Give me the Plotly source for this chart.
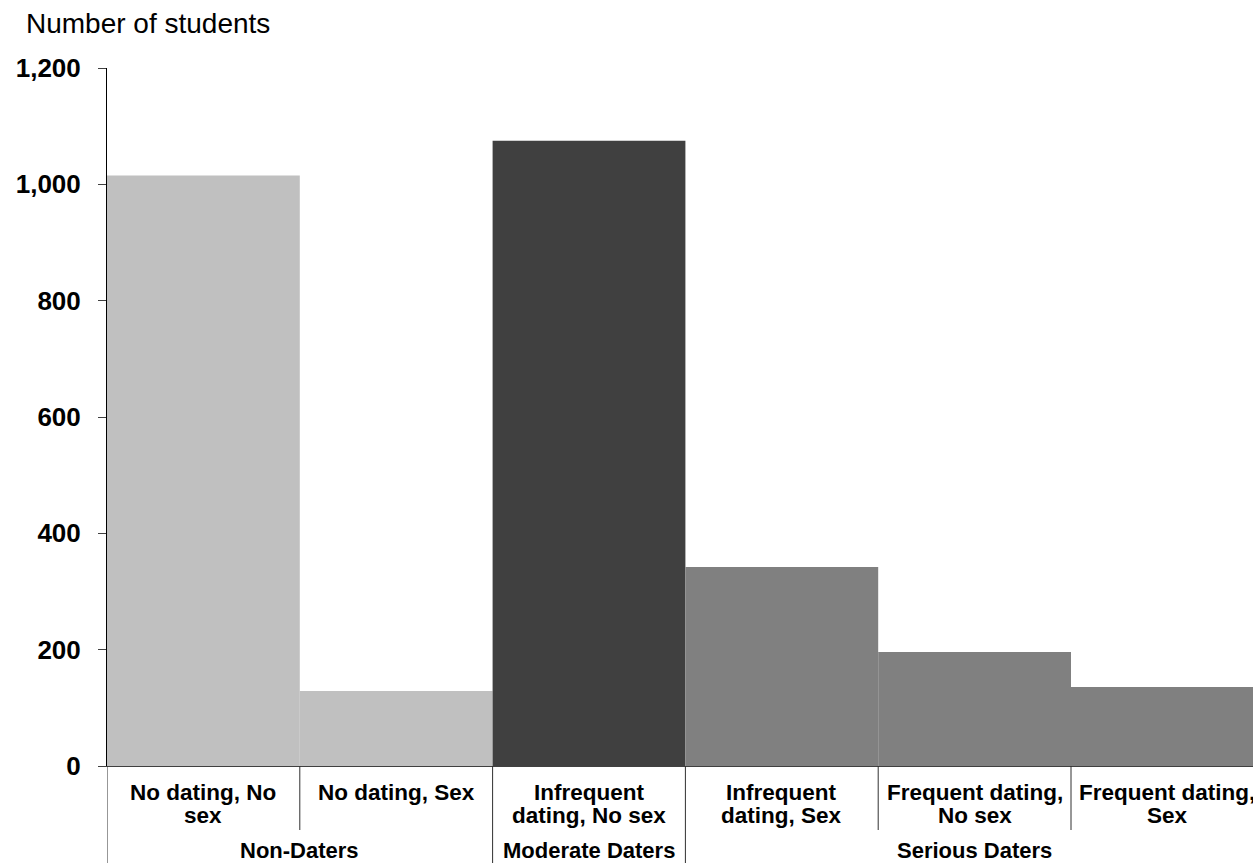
import plotly.graph_objects as go

# Number of students per dating/sex category
categories = [
    "No dating, No<br>sex",
    "No dating, Sex",
    "Infrequent<br>dating, No sex",
    "Infrequent<br>dating, Sex",
    "Frequent dating,<br>No sex",
    "Frequent dating,<br>Sex",
]
students = [1015, 129, 1075, 342, 196, 136]
groups = ["Non-Daters", "Moderate Daters", "Serious Daters"]
group_index = [0, 0, 1, 2, 2, 2]
group_colors = ["#C0C0C0", "#404040", "#808080"]
y_ticks = [0, 200, 400, 600, 800, 1000, 1200]

FONT = "Liberation Sans, Arial, sans-serif"
W, H = 1253, 863
M_L, M_T, M_B = 107, 68, 97
PLOT_H = H - M_T - M_B
PLOT_W = W - M_L
BAR_PX = 192.8


def py(pix):
    """Convert a pixel row of the page into paper y coordinates."""
    return (H - M_B - pix) / PLOT_H


def px(pix):
    """Convert a pixel column of the page into paper x coordinates."""
    return (pix - M_L) / PLOT_W


x = list(range(len(categories)))
fig = go.Figure(
    go.Bar(
        x=x,
        y=students,
        width=1,
        marker=dict(color=[group_colors[g] for g in group_index], line=dict(width=0)),
        hoverinfo="skip",
    )
)

shapes = []
annotations = []

# Category labels under each bar, one annotation per text line
for i, label in enumerate(categories):
    for j, line in enumerate(label.split("<br>")):
        annotations.append(dict(
            x=i, xref="x", y=py(792 + 23 * j), yref="paper",
            text=f"<b>{line}</b>", showarrow=False,
            xanchor="center", yanchor="middle",
            font=dict(family=FONT, size=22.5, color="black"),
        ))

# Group labels centred under their categories
for g, name in enumerate(groups):
    members = [i for i, gi in enumerate(group_index) if gi == g]
    annotations.append(dict(
        x=sum(members) / len(members), xref="x", y=py(850), yref="paper",
        text=f"<b>{name}</b>", showarrow=False,
        xanchor="center", yanchor="middle",
        font=dict(family=FONT, size=22, color="black"),
    ))

# Divider lines between categories: full height at group boundaries
div_color = "#303030"
shapes.append(dict(type="line", xref="x", yref="paper", x0=-0.5, x1=-0.5,
                   y0=0, y1=py(H + 2), line=dict(color=div_color, width=1)))
for i in range(1, len(categories)):
    full = group_index[i] != group_index[i - 1]
    shapes.append(dict(
        type="line", xref="x", yref="paper", x0=i - 0.5, x1=i - 0.5,
        y0=0, y1=py(H + 2) if full else py(830),
        line=dict(color=div_color, width=1),
    ))

# Axis title at the top left
annotations.append(dict(
    x=px(24), xref="paper", y=py(24), yref="paper",
    text="Number of students", showarrow=False,
    xanchor="left", yanchor="middle",
    font=dict(family=FONT, size=28, color="black"),
))

fig.update_layout(
    width=W, height=H,
    margin=dict(l=M_L, r=0, t=M_T, b=M_B, pad=0),
    paper_bgcolor="white", plot_bgcolor="white",
    showlegend=False,
    shapes=shapes,
    annotations=annotations,
    xaxis=dict(
        range=[-0.5, -0.5 + PLOT_W / BAR_PX],
        showticklabels=False, ticks="", showgrid=False, zeroline=False,
        showline=True, linecolor="#404040", linewidth=1,
    ),
    yaxis=dict(
        range=[0, 1200], tickvals=y_ticks, tickformat=",d",
        ticks="outside", ticklen=8, tickcolor="#404040", tickwidth=1,
        ticklabelstandoff=12,
        showgrid=False, zeroline=False,
        showline=True, linecolor="black", linewidth=1,
        tickfont=dict(family=FONT, size=26, color="black", weight="bold"),
    ),
)

fig.write_html("out.html")
